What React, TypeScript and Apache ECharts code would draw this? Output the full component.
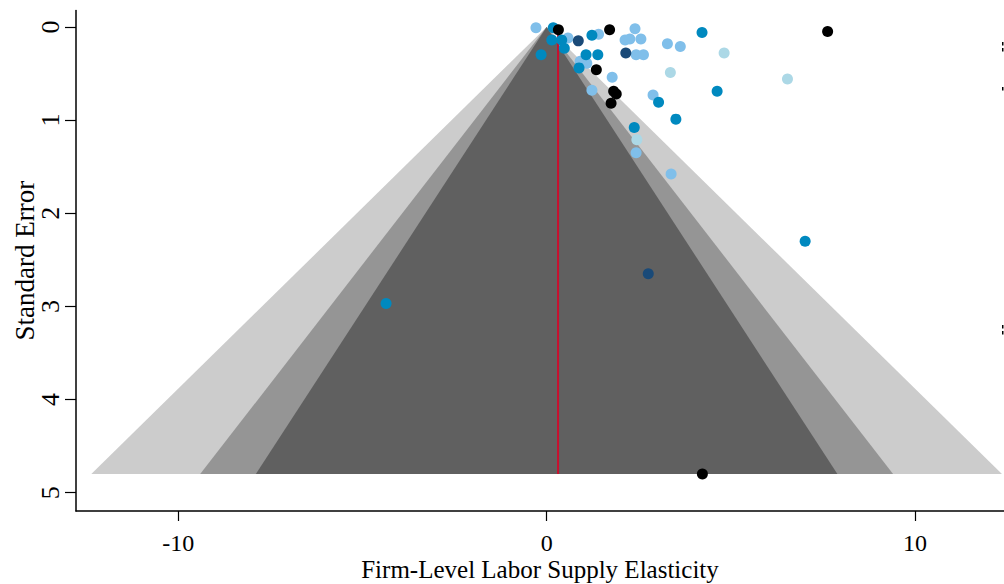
import React, { useEffect, useRef } from "react";
import * as echarts from "echarts";

const xTicks = [-10, 0, 10];
const yTicks = [0, 1, 2, 3, 4, 5];
const seBottom = 4.8;
const contourZ = [2.576, 1.96, 1.645];
const contourColors = ["#cccccc", "#959595", "#606060"];
const meanEstimate = 0.31;

const blackPts = [
  [0.32, 0.03], [1.71, 0.03], [7.63, 0.05], [1.35, 0.46], [1.82, 0.69],
  [1.89, 0.72], [1.75, 0.82], [4.23, 4.8],
];
const navyPts = [[0.86, 0.15], [2.15, 0.28], [2.76, 2.65]];
const midBluePts = [
  [0.18, 0.01], [0.14, 0.14], [0.41, 0.14], [0.48, 0.23], [-0.15, 0.3],
  [1.23, 0.09], [1.07, 0.3], [1.39, 0.3], [0.88, 0.44], [4.22, 0.06],
  [4.63, 0.69], [3.04, 0.81], [3.51, 0.99], [2.38, 1.08], [7.02, 2.3],
  [-4.36, 2.97],
];
const lightBluePts = [
  [-0.29, 0.01], [0.58, 0.12], [1.41, 0.08], [2.4, 0.02], [2.13, 0.14],
  [2.26, 0.13], [2.56, 0.13], [2.43, 0.3], [2.63, 0.3], [3.28, 0.18],
  [3.63, 0.21], [0.91, 0.37], [1.09, 0.39], [1.78, 0.54], [1.23, 0.68],
  [2.89, 0.73], [2.43, 1.35], [3.38, 1.58],
];
const paleBluePts = [[4.82, 0.28], [3.36, 0.49], [6.54, 0.56], [2.45, 1.21]];

const FONT = "'Liberation Serif', 'Times New Roman', serif";

export default function App() {
  const ref = useRef<HTMLDivElement>(null);
  useEffect(() => {
    document.body.style.margin = "0";
    const chart = echarts.init(ref.current!, null, { renderer: "svg" });
    const scatter = (data: number[][], color: string) => ({
      type: "scatter",
      data,
      symbolSize: 11,
      itemStyle: { color, opacity: 1 },
      z: 5,
    });
    chart.setOption({
      animation: false,
      grid: { left: 76, right: 0, top: 10.4, bottom: 73, containLabel: false, outerBoundsMode: "none" },
      xAxis: {
        type: "value",
        min: -12.78,
        max: 12.42,
        splitLine: { show: false },
        axisLine: { onZero: false, lineStyle: { color: "#000", width: 1.5 } },
        axisTick: { customValues: xTicks, length: 10, lineStyle: { color: "#000", width: 1.2 } },
        axisLabel: { customValues: xTicks, color: "#000", fontFamily: FONT, fontSize: 24, lineHeight: 24, margin: 20 },
        name: "Firm-Level Labor Supply Elasticity",
        nameLocation: "middle",
        nameGap: 46,
        nameMoveOverlap: false,
        nameTextStyle: { color: "#000", fontFamily: FONT, fontSize: 25, lineHeight: 25 },
      },
      yAxis: {
        type: "value",
        inverse: true,
        min: -0.177,
        max: 5.196,
        splitLine: { show: false },
        axisLine: { onZero: false, lineStyle: { color: "#000", width: 1.5 } },
        axisTick: { customValues: yTicks, length: 11, lineStyle: { color: "#000", width: 1.2 } },
        axisLabel: { customValues: yTicks, rotate: 90, color: "#000", fontFamily: FONT, fontSize: 26, margin: 13 },
        name: "Standard Error",
        nameLocation: "middle",
        nameGap: 38,
        nameMoveOverlap: false,
        nameRotate: 90,
        nameTextStyle: { color: "#000", fontFamily: FONT, fontSize: 27 },
      },
      series: [
        {
          type: "custom",
          data: contourZ.map((z, i) => [z, i]),
          renderItem: (params: any, api: any) => {
            const z = api.value(0);
            const idx = api.value(1);
            const apex = api.coord([0, 0]);
            const l = api.coord([-z * seBottom, seBottom]);
            const r = api.coord([z * seBottom, seBottom]);
            return {
              type: "polygon",
              shape: { points: [apex, l, r] },
              style: { fill: contourColors[idx] },
            };
          },
          clip: true,
          z: 1,
        },
        {
          type: "line",
          data: [[meanEstimate, 0], [meanEstimate, seBottom]],
          showSymbol: false,
          lineStyle: { color: "#c8102e", width: 2 },
          z: 2,
        },
        scatter(paleBluePts, "#acd8e6"),
        scatter(lightBluePts, "#80bfea"),
        scatter(midBluePts, "#0089bf"),
        scatter(navyPts, "#1a4a78"),
        scatter(blackPts, "#000000"),
      ],
      graphic: [
        { type: "rect", shape: { x: 1002, y: 42, width: 1.5, height: 3.5 }, style: { fill: "#000" } },
        { type: "rect", shape: { x: 1002, y: 48, width: 1.5, height: 3.5 }, style: { fill: "#000" } },
        { type: "rect", shape: { x: 1002, y: 87, width: 1.5, height: 3.5 }, style: { fill: "#000" } },
        { type: "rect", shape: { x: 1002, y: 325, width: 1.5, height: 3.5 }, style: { fill: "#000" } },
        { type: "rect", shape: { x: 1002, y: 331, width: 1.5, height: 3.5 }, style: { fill: "#000" } },
      ],
    });
    return () => chart.dispose();
  }, []);
  return <div ref={ref} style={{ width: 1004, height: 584 }} />;
}
